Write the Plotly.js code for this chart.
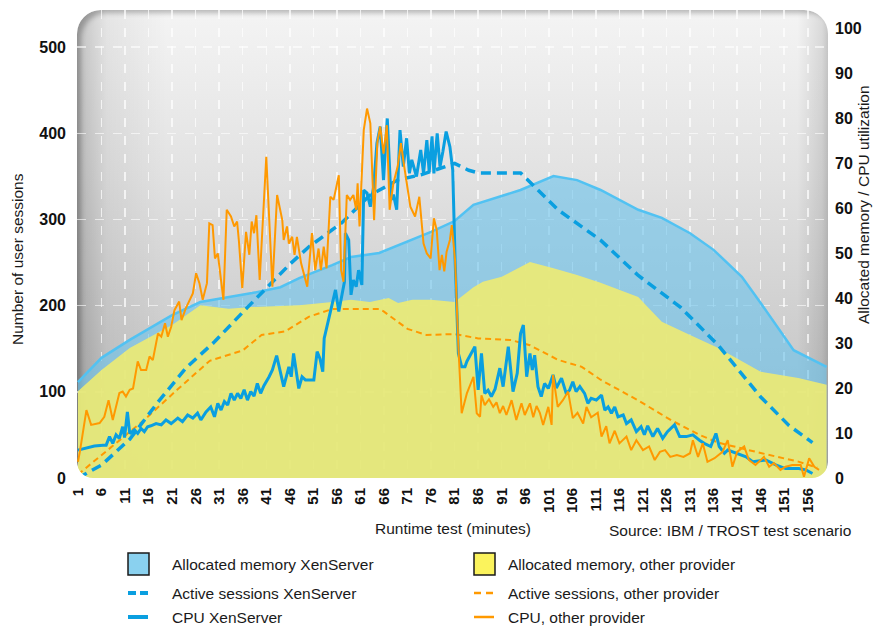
<!DOCTYPE html>
<html>
<head>
<meta charset="utf-8">
<script src="https://cdn.plot.ly/plotly-3.0.1.min.js"></script>
<style>
  html, body { margin:0; padding:0; background:#ffffff; }
  #wrap { position:relative; width:874px; height:627px; overflow:hidden; }
  #bg { position:absolute; left:77px; top:10px; width:751px; height:468px;
        border-radius:24px 24px 16px 16px;
        background:
          linear-gradient(to right, rgba(0,0,0,0.20) 0px, rgba(0,0,0,0.06) 30px, rgba(0,0,0,0) 90px, rgba(0,0,0,0) 720px, rgba(0,0,0,0.10) 745px, rgba(0,0,0,0.18) 751px),
          linear-gradient(to bottom, #f4f4f4 0%, #e2e2e2 35%, #cdcdcd 70%, #bdbdbd 100%);
        box-shadow: inset 6px 5px 5px -2px rgba(0,0,0,0.25);
        z-index:0; }
  #chart { position:absolute; left:0; top:0; width:874px; height:627px; z-index:1; }
</style>
</head>
<body>
<div id="wrap"><div id="bg"></div><div id="chart"></div></div>
<script>
// ---------------- DATA ----------------
const xTickVals = [1,6,11,16,21,26,31,36,41,46,51,56,61,66,71,76,81,86,91,96,101,106,111,116,121,126,131,136,141,146,151,156];
const xTickText = ["1","6","11","16","21","26","31","36","41","46","51","56","61","66","71","76","81","86","91","96","101","106","111","116","121","126","131","136","141","146","151","156"];

// Allocated memory XenServer (%)
const memXenMin = [1, 6, 12, 21, 27, 38, 44, 48, 55, 59, 65, 72, 76, 81, 85, 95, 102, 107, 112, 120, 125, 131, 136, 142, 146, 153, 160];
const memXen    = [21.3, 26.7, 30.7, 36.2, 39.1, 41.1, 42.4, 44.4, 47.3, 49.1, 50, 52.9, 54.7, 57.1, 60.7, 64, 67.1, 66.2, 64, 59.6, 57.8, 54.4, 50.7, 44.7, 38.9, 28.4, 24.7];

// Allocated memory, other provider (%)
const memOthMin = [1, 6, 12, 21, 27, 33, 38, 43, 48, 55, 59, 63, 67, 69, 72, 76, 81, 85, 87, 91, 97, 102, 107, 112, 120, 122, 125, 131, 137, 146, 154, 160];
const memOth    = [19.3, 24, 28.9, 34, 38.4, 37.6, 38, 38.2, 38.4, 39.1, 39.6, 39.1, 40, 38.9, 39.6, 39.6, 39.1, 42.4, 43.6, 44.7, 48, 46.6, 45.1, 43.4, 40.2, 38, 34.7, 31.8, 28.9, 23.6, 22.2, 20.7];

// Active sessions XenServer (users)
const sessXenMin = [1, 6, 12, 18, 24, 30, 37, 42, 46, 50, 57, 63, 69, 74, 81, 84, 86, 95, 97, 103, 112, 120, 129, 137, 146, 152, 157];
const sessXen    = [0, 15, 45, 88, 128, 158, 198, 225, 248, 268, 296, 328, 346, 352, 365, 357, 354, 354, 343, 311, 276, 235, 198, 154, 94, 61, 41];

// Active sessions, other provider (users)
const sessOthMin = [1, 3, 8, 15, 22, 29, 36, 40, 45, 50, 55, 65, 66, 71, 75, 81, 86, 93, 97, 103, 108, 112, 120, 127, 133, 137, 146, 154, 158];
const sessOth    = [4, 13, 36, 67, 102, 136, 148, 166, 170, 187, 196, 196, 193, 173, 166, 167, 162, 160, 154, 137, 129, 114, 90, 67, 50, 41, 29, 19, 12];

// CPU XenServer (%)
const cpuXenMin = [1,2.4,4.5,6.3,7,7.7,8.4,9.1,9.8,10.5,10.9,11.5,12,13,13.7,14.4,15.1,15.8,16.5,17.6,18.7,19.7,20.8,22.2,23.2,24.3,25.4,26.4,27.1,28.2,29.2,30,30.7,31.4,32.1,32.8,33.5,34.2,34.9,35.6,36.3,37,37.7,38.4,39.1,39.8,40.5,41.6,42.3,43.2,44,44.7,45.8,46.3,46.8,47.9,48.6,49.3,51.1,51.8,52.4,53,53.3,54.2,55,55.7,56.4,57.1,57.6,57.8,58.5,59,59.5,60.1,60.6,61.3,61.7,62.4,63.1,63.8,64.5,65.2,65.9,66.7,67.5,68,68.7,69.4,70.1,70.8,71.4,71.9,72.4,72.9,73.8,74.4,75.1,75.6,76.2,76.6,77.3,77.9,78.5,79.2,80,80.6,81.1,81.8,82.5,83.2,83.6,84.6,85.3,86,86.7,87.4,88.1,88.8,89.6,90.6,91.3,92.4,93.4,94.3,95,95.6,96.3,97,97.5,98,98.7,99.4,100.1,100.9,101.9,102.6,103.7,104.7,105.4,106.1,106.8,107.6,108.6,109.3,110,111.1,112.2,112.9,113.6,114.3,115,115.7,116.8,117.5,118.5,119.6,120.6,121.3,122,123.1,124.1,125.2,126.2,127.7,128.8,130.2,131.6,133,134,135.4,136.5,137.2,138.3,139,140.8,142.9,144.3,147.1,149.2,151.3,154.1,155.6,157];
const cpuXen    = [6.2,6.6,7.1,7.3,7.3,9.2,7.7,9.6,8.8,11.4,9,14.7,9.9,10.7,9.9,11,10.3,11.4,11.6,12.1,11.8,12.9,12.1,13.3,12.5,14,13.3,14.4,12.9,14.7,15.8,13.6,16.6,15.1,17,16.2,18.8,17.3,18.8,17.7,19.6,17.3,19.2,18.2,21,18.8,20.5,22.5,24,27.2,23.5,20.3,24.7,22.5,27.7,19.9,22.5,21.8,21.8,28.1,26.5,23.6,31,35.1,38.8,41.8,37,41,43.6,54.4,52.9,40.7,44,42.5,46.2,42.9,64,63.3,60.3,64.7,74.4,78.1,66.2,79.9,61.8,63,59.6,77.3,69.2,75.5,67.7,70.7,68.5,67,72.9,67.7,75.1,68,75.9,67.7,76.6,69.2,72.5,77,73.6,68.4,48.4,27.7,24.7,24.7,25.9,27.7,29.2,19.6,27.7,18.8,19.5,18.1,19.8,24.4,20.3,29.2,19.2,23.3,32.1,34,22.5,27.7,24,27.3,20.3,18.1,21,19.9,22.9,20,22.2,18.8,19.5,21.4,19.2,20.3,18.8,16.6,17.7,17.3,18.4,15.1,15.8,14.4,15.8,13.6,14,12.1,12.9,10.3,11.4,9.6,11.6,9.2,11,8.8,10.3,11.8,9.2,9.2,9.6,8.4,7.7,7,9.9,7,5.5,6.2,5.5,4.7,3.6,4,2.9,2.1,2.1,1.8,1];

// CPU, other provider (%)
const cpuOthMin = [1,1.4,2.8,3.8,5.6,6.6,7.5,8.4,9.8,10.5,11.2,12,12.7,13.7,14.4,15.5,16.2,16.9,18,18.7,19.5,20.1,20.8,21.5,22.5,23,23.9,25.4,26.1,26.8,27.5,28.4,28.9,29.6,30.1,30.7,31.9,32.6,33.5,34.2,34.8,35.2,35.9,36.7,37.4,37.9,38.4,38.9,39.6,41,42.3,43.3,44.4,44.7,45.4,45.8,46.5,47,47.5,48.4,49.7,50.7,51.4,52.1,52.6,53.2,53.8,54.6,55.3,56.4,56.9,57.4,58.1,58.8,59.5,60.1,60.4,60.8,61.7,62.4,63.1,63.9,64.6,65.2,65.9,66.6,67.2,68,68.9,69.6,70.3,70.8,71.6,72.6,73.5,74.4,75.1,75.9,76.6,77.2,77.8,78.3,78.8,79.3,80,80.4,81.1,81.8,82.5,83.6,85,85.7,86.4,86.7,87.4,88.3,89.2,89.9,90.6,91.3,92,93.1,94.1,95.2,95.9,97,97.7,98.4,99.1,99.8,100.9,101.6,101.9,102.9,104,105.1,106.1,107.1,108.3,109,110,111.4,112.2,113.2,113.9,115,116,117.5,118.5,119.6,121,122.3,123.5,124.6,125.7,126.8,128.2,129.6,131,131.6,132.7,133.7,134.7,136.2,137.9,139,140,141,142.5,143.5,144.9,146.7,147.8,148.8,150.2,151.3,152.7,154.5,155.2,156.3,157.4,158.4];
const cpuOth    = [3.6,5.8,15.1,11.8,12.2,13.6,17.3,12.9,18.9,19.2,18.1,19.6,19.9,25.9,24,24,27,26.2,32.1,31.4,34.4,31.4,33.6,37.3,39.2,35.1,37.7,41,45.5,43.3,39.6,43.3,56.6,56.2,48.8,49.9,39.6,59.6,58.1,55.9,57,52.5,42.2,54.7,49.6,57,54.4,58.4,44,71.4,42.5,62.9,57.3,52.9,55.9,52.1,53.6,49.6,53.6,47.7,42.5,54.4,46.2,51,46.2,51.4,46.6,62.5,61.8,67.3,46.2,43.6,62.9,61.8,62.9,59.6,65.5,55.9,77.3,82.1,78.8,57.3,74.7,78.1,72.1,78.4,59.6,65.5,69.2,74.4,69.2,65.5,60.3,58.1,62.5,52.1,49.9,48.8,57.7,55.1,46.2,49.6,45.9,50.3,52.9,56.2,48.4,29.2,14.4,18.8,22.5,14.4,13.6,18.4,16.2,17.5,15.8,16.8,14.4,16,14,17.3,12.9,16.6,14,16.6,13.5,16,14.5,11.8,15.8,11.8,22.9,15.8,17.3,19.2,13.3,14.5,12.1,15.8,13.5,14.5,9.2,11.5,7.7,10.5,7.7,9.2,6.2,8.4,6.2,7,4,5.8,6.2,4.7,5.1,4.7,5.5,8.4,4.7,7.7,3.6,4.4,5.8,8.4,2.5,5.8,7,4,2.9,4.7,2.5,3.3,1.8,2.5,2.9,2.9,0.3,4.4,2.5,1.8];

// ---------------- STYLE ----------------
const BLUE = '#0a9fe0', ORANGE = '#ff9900';
const TXT = 'Liberation Sans, Arial, sans-serif';
const PX = px => (px - 77) / 751;      // pixel -> paper x
const PY = py => (478 - py) / 468;     // pixel -> paper y

// y  : memory % (right side)  -> drawn first (areas at the back)
// y2 : user sessions (left side, overlay) -> dashed lines above the areas
// y3 : CPU % (hidden overlay, same scale as y) -> CPU lines on top
const traces = [
  { x: memXenMin, y: memXen, yaxis: 'y', mode: 'lines', fill: 'tozeroy',
    fillcolor: 'rgba(108,196,236,0.62)', line: { color: '#52c2f2', width: 2.5 }, hoverinfo: 'skip' },
  { x: memOthMin, y: memOth, yaxis: 'y', mode: 'lines', fill: 'tozeroy',
    fillcolor: 'rgba(240,236,112,0.88)', line: { color: 'rgba(0,0,0,0)', width: 0 }, hoverinfo: 'skip' },
  { x: sessOthMin, y: sessOth, yaxis: 'y2', mode: 'lines',
    line: { color: ORANGE, width: 2, dash: '6px,4px' }, hoverinfo: 'skip' },
  { x: sessXenMin, y: sessXen, yaxis: 'y2', mode: 'lines',
    line: { color: BLUE, width: 3.5, dash: '10px,6px' }, hoverinfo: 'skip' },
  { x: cpuXenMin, y: cpuXen, yaxis: 'y3', mode: 'lines',
    line: { color: BLUE, width: 3 }, hoverinfo: 'skip' },
  { x: cpuOthMin, y: cpuOth, yaxis: 'y3', mode: 'lines',
    line: { color: ORANGE, width: 2 }, hoverinfo: 'skip' }
];

const r = 16, rx = r / 751, ry = r / 468, k = 0.448;
const shapes = [
  { type: 'path', xref: 'paper', yref: 'paper', layer: 'above', fillcolor: '#ffffff', line: { width: 0 },
    path: `M 0 ${ry} L 0 0 L ${rx} 0 C ${rx*k} 0 0 ${ry*k} 0 ${ry} Z` },
  { type: 'path', xref: 'paper', yref: 'paper', layer: 'above', fillcolor: '#ffffff', line: { width: 0 },
    path: `M 1 ${ry} L 1 0 L ${1-rx} 0 C ${1-rx*k} 0 1 ${ry*k} 1 ${ry} Z` },
  { type: 'rect', xref: 'paper', yref: 'paper', x0: PX(128), x1: PX(149), y0: PY(575), y1: PY(553),
    fillcolor: '#8ad1ef', line: { color: '#1a1a1a', width: 1.5 } },
  { type: 'rect', xref: 'paper', yref: 'paper', x0: PX(474), x1: PX(495), y0: PY(575), y1: PY(553),
    fillcolor: '#fbf35c', line: { color: '#1a1a1a', width: 1.5 } },
  { type: 'line', xref: 'paper', yref: 'paper', x0: PX(128), x1: PX(136), y0: PY(593), y1: PY(593), line: { color: BLUE, width: 4 } },
  { type: 'line', xref: 'paper', yref: 'paper', x0: PX(140), x1: PX(148), y0: PY(593), y1: PY(593), line: { color: BLUE, width: 4 } },
  { type: 'line', xref: 'paper', yref: 'paper', x0: PX(474), x1: PX(481), y0: PY(593), y1: PY(593), line: { color: ORANGE, width: 2.5 } },
  { type: 'line', xref: 'paper', yref: 'paper', x0: PX(486), x1: PX(493), y0: PY(593), y1: PY(593), line: { color: ORANGE, width: 2.5 } },
  { type: 'line', xref: 'paper', yref: 'paper', x0: PX(128), x1: PX(148), y0: PY(617), y1: PY(617), line: { color: BLUE, width: 4 } },
  { type: 'line', xref: 'paper', yref: 'paper', x0: PX(474), x1: PX(494), y0: PY(617), y1: PY(617), line: { color: ORANGE, width: 2.5 } }
];

const txtFont = { family: TXT, size: 15.5, color: '#1a1a1a' };
function ann(text, px, py, opts) {
  return Object.assign({ text: text, xref: 'paper', yref: 'paper', x: PX(px), y: PY(py),
    xanchor: 'left', yanchor: 'middle', showarrow: false, font: txtFont }, opts || {});
}
const annotations = [
  ann('Allocated memory XenServer', 170, 564),
  ann('Allocated memory, other provider', 506, 564),
  ann('Active sessions XenServer', 170, 593),
  ann('Active sessions, other provider', 506, 593),
  ann('CPU XenServer', 170, 617),
  ann('CPU, other provider', 506, 617),
  ann('Runtime test (minutes)', 453, 528, { xanchor: 'center' }),
  ann('Source: IBM / TROST test scenario', 853, 530, { xanchor: 'right' }),
  ann('Number of user sessions', 17, 259, { xanchor: 'center', textangle: -90 }),
  ann('Allocated memory / CPU utilization', 864, 205, { xanchor: 'center', textangle: -90 })
];

const tickFont = { family: TXT, size: 16, color: '#111111', weight: 'bold' };
const layout = {
  width: 874, height: 627,
  margin: { l: 77, r: 46, t: 10, b: 149 },
  paper_bgcolor: 'rgba(0,0,0,0)', plot_bgcolor: 'rgba(0,0,0,0)',
  showlegend: false,
  xaxis: {
    range: [0.8, 160.3], tickmode: 'array', tickvals: xTickVals, ticktext: xTickText,
    tickangle: -90, tickfont: { family: TXT, size: 15, color: '#111111', weight: 'bold' },
    showgrid: true, gridcolor: 'rgba(255,255,255,0.7)', griddash: 'dash', gridwidth: 1.5,
    zeroline: false, showline: false, ticks: '', ticklabelstandoff: 6
  },
  yaxis: {
    side: 'right', range: [0, 104], tickmode: 'array',
    tickvals: [0, 10, 20, 30, 40, 50, 60, 70, 80, 90, 100],
    tickfont: tickFont, showgrid: false, zeroline: false, showline: false, ticks: '', ticklabelstandoff: 6
  },
  yaxis2: {
    overlaying: 'y', side: 'left', range: [0, 543], tickmode: 'array', tickvals: [0, 100, 200, 300, 400, 500],
    tickfont: tickFont, showgrid: true, gridcolor: 'rgba(255,255,255,0.6)', griddash: 'dash', gridwidth: 1.5,
    zeroline: false, showline: false, ticks: '', ticklabelstandoff: 10
  },
  yaxis3: {
    overlaying: 'y', side: 'right', range: [0, 104], visible: false, showgrid: false, zeroline: false
  },
  shapes: shapes,
  annotations: annotations
};

Plotly.newPlot('chart', traces, layout, { staticPlot: true, displayModeBar: false });
</script>
</body>
</html>
